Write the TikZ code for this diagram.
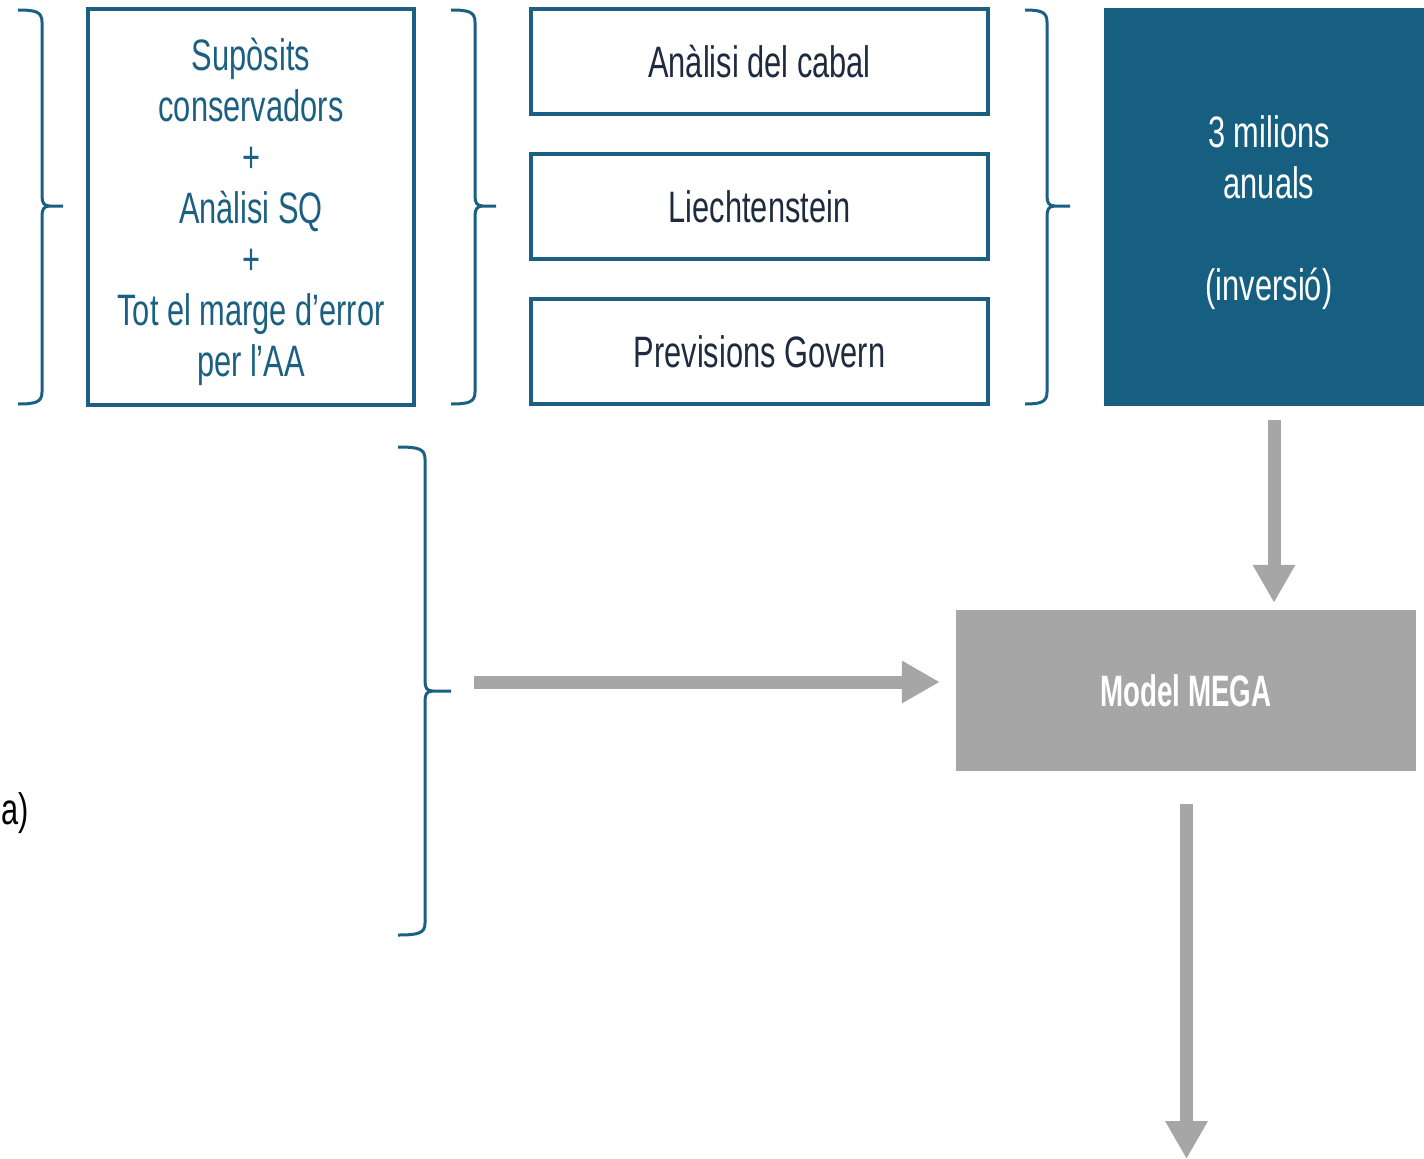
\documentclass[tikz,border=0pt]{standalone}
\usepackage{fontspec}
\setmainfont[FakeStretch=0.7]{Liberation Sans}
\newfontfamily\mfont[FakeStretch=0.63]{Liberation Sans}
\usetikzlibrary{arrows.meta}
\definecolor{bblue}{HTML}{1B6082}
\definecolor{fblue}{HTML}{175F80}
\definecolor{dtext}{HTML}{1E2B3E}
\definecolor{agray}{HTML}{A6A6A6}
\newcommand\mybr[6]{% xl, x0, xtip, ytop, ytip, ybot
  \draw[bracestyle] (#2,#4) .. controls ({#1-6},#4) and (#1,{#4+2}) .. (#1,{#4+12})
    -- (#1,{#5-10}) .. controls (#1,{#5-3}) and ({#1+2},#5) .. ({#1+8},#5) -- (#3,#5)
    (#3,#5) -- ({#1+8},#5) .. controls ({#1+2},#5) and (#1,{#5+3}) .. (#1,{#5+10})
    -- (#1,{#6-12}) .. controls (#1,{#6-2}) and ({#1-6},#6) .. (#2,#6);}
\tikzset{
  bracestyle/.style={draw=bblue, line width=3pt},
  obox/.style={draw=bblue, line width=3.2pt, inner sep=0pt, fill=white},
  txt/.style={font=\fontsize{44}{51}\selectfont, align=center},
  garrow/.style={draw=agray, line width=13pt, -{Triangle[length=38pt,width=40pt]}}
}
\begin{document}
\begin{tikzpicture}[x=1pt,y=-1pt]
\useasboundingbox (0,0) rectangle (1424,1159);
% braces
\mybr{42}{18}{63}{10}{206}{404}
\mybr{475}{451}{496}{10}{206}{404}
\mybr{1047}{1025}{1070}{10}{206}{404}
\mybr{425}{398}{451}{447}{691}{935}
% left box
\node[obox, minimum width=326pt, minimum height=396pt] (sup) at (251,207) {};
\node[txt, text=bblue] (suptxt) at (251,211.5) {Supòsits\\conservadors\\+\\Anàlisi SQ\\+\\Tot el marge d’error\\per l’AA};
% middle boxes
\node[obox, minimum width=457pt, minimum height=105pt, txt, text=dtext] (cabal) at (759.5,61.5) {Anàlisi del cabal};
\node[obox, minimum width=457pt, minimum height=105pt, txt, text=dtext] (liech) at (759.5,206.5) {Liechtenstein};
\node[obox, minimum width=457pt, minimum height=105pt, txt, text=dtext] (prev) at (759.5,351.5) {Previsions Govern};
% blue box
\node[fill=fblue, inner sep=0pt, minimum width=320pt, minimum height=398pt] (inv) at (1264,207) {};
\node[txt, text=white] (invtxt) at (1269,212.5) {3 milions\\anuals\\[51pt](inversió)};
% model box
\node[fill=agray, inner sep=0pt, minimum width=460pt, minimum height=161pt, text=white, font=\mfont\bfseries\fontsize{44}{51}\selectfont] (mega) at (1186,690.5) {Model MEGA};
% a)
\node[txt, anchor=east, inner sep=0pt, text=black] (alab) at (29,813) {a)};
% arrows
\coordinate (a1s) at (1274,420);
\coordinate (a2s) at (474,682);
\coordinate (a3s) at (1186.5,804);
\coordinate (a3e) at (1186.5,1159);
\draw[garrow, shorten >=7pt] (a1s) -- (a1s |- mega.north);
\draw[garrow, shorten >=16pt] (a2s) -- (a2s -| mega.west);
\draw[garrow] (a3s) -- (a3e);
\end{tikzpicture}
\end{document}
